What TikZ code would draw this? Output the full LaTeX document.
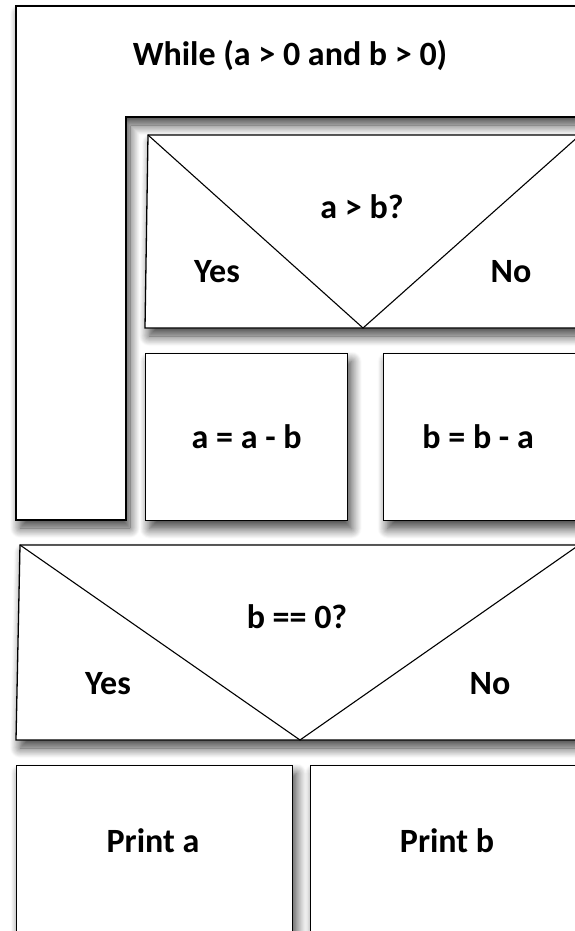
\documentclass[tikz,border=0pt]{standalone}
\usepackage{fontspec}
\setmainfont{Carlito}
\usetikzlibrary{shadows.blur, positioning}
\tikzstyle{frame} = [draw=black, line width=1.3pt, fill=white, blur shadow={shadow xshift=4pt, shadow yshift=-8pt, shadow blur radius=10pt, shadow blur steps=12, shadow opacity=75}]
\tikzstyle{block} = [rectangle, anchor=north west, inner sep=0pt, frame]
\tikzstyle{split} = [line width=1.1pt, draw=black]
\tikzstyle{lbl} = [font=\bfseries\fontsize{34}{40}\selectfont]

\begin{document}
\begin{tikzpicture}[x=1pt, y=-1pt]
  \useasboundingbox (0,0) rectangle (575,931);
  \clip (0,0) rectangle (575,931);
  % While loop frame
  \draw[frame] (16,6) -- (620,6) -- (620,117) -- (126,117) -- (126,520) -- (16,520) -- cycle;
  \node[lbl] (while) at (290,55) {While (a > 0 and b > 0)};
  % Decision a > b
  \coordinate (d1tl) at (148,135);
  \coordinate (d1tr) at (580,135);
  \coordinate (d1v) at (363,328);
  \draw[frame] (d1tl) -- (620,135) -- (620,328) -- (145,328) -- cycle;
  \draw[split] (d1tl) -- (d1v) -- (d1tr);
  \node[lbl] (q1) at (362,207) {a > b?};
  \node[lbl] (yes1) at (217,272) {Yes};
  \node[lbl] (no1) at (511,272) {No};
  % Branch statements
  \node[block, minimum width=202pt, minimum height=167pt] (suba) at (145,353) {};
  \node[lbl] at (suba.center) {a = a - b};
  \node[block, minimum width=237pt, minimum height=167pt] (subb) at (383,353) {};
  \node[lbl] at ([xshift=-24pt]subb.center) {b = b - a};
  % Decision b == 0
  \coordinate (d2tl) at (20,545);
  \coordinate (d2tr) at (579,545);
  \coordinate (d2v) at (300,740);
  \draw[frame] (d2tl) -- (620,545) -- (620,740) -- (16,740) -- cycle;
  \draw[split] (d2tl) -- (d2v) -- (d2tr);
  \node[lbl] (q2) at (297,617) {b == 0?};
  \node[lbl] (yes2) at (108,684) {Yes};
  \node[lbl] (no2) at (490,684) {No};
  % Output
  \node[block, minimum width=276pt, minimum height=200pt] (pa) at (16,765) {};
  \node[lbl] at (153,841) {Print a};
  \node[block, minimum width=310pt, minimum height=200pt] (pb) at (310,765) {};
  \node[lbl] at (447,841) {Print b};
\end{tikzpicture}
\end{document}
